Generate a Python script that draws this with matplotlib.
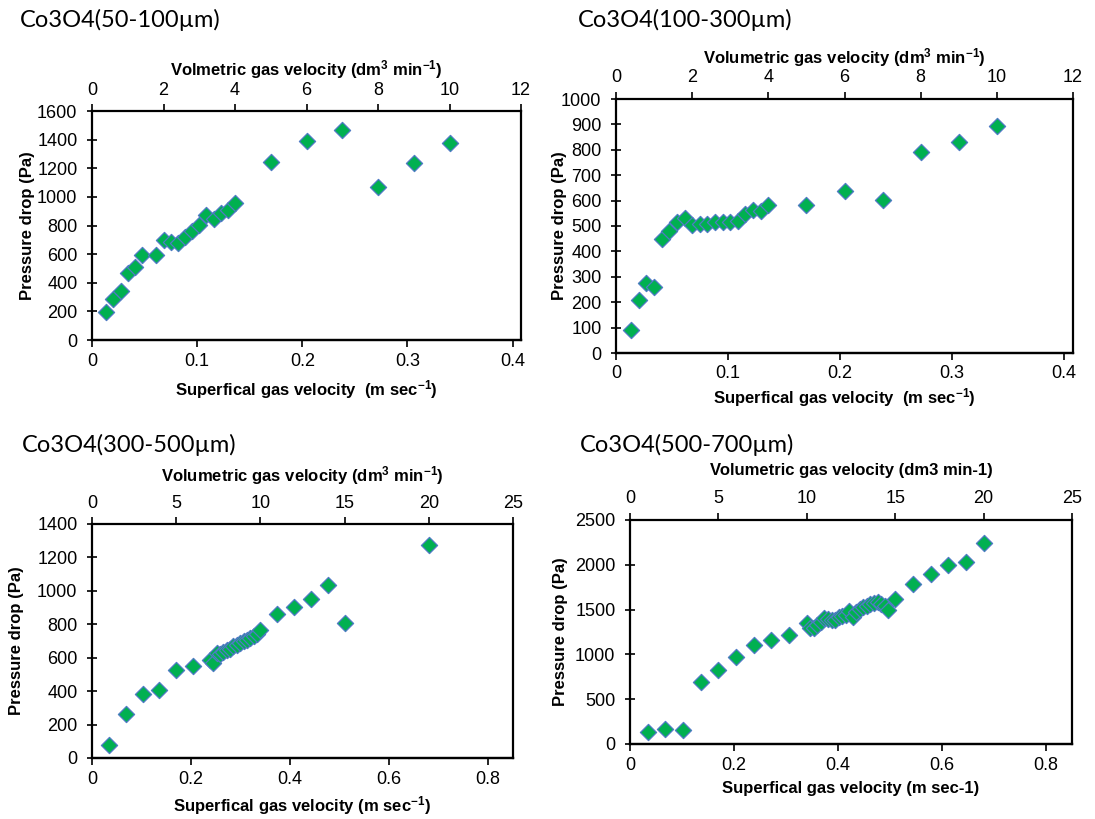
import matplotlib
matplotlib.use('Agg')
import matplotlib.pyplot as plt
from matplotlib.ticker import FuncFormatter

plt.rcParams['font.family'] = ['Liberation Sans', 'DejaVu Sans']
plt.rcParams['mathtext.fontset'] = 'custom'
plt.rcParams['mathtext.rm'] = 'Liberation Sans'
plt.rcParams['mathtext.bf'] = 'Liberation Sans:bold'
plt.rcParams['mathtext.default'] = 'bf'

# conversion between top (volumetric, dm3/min) and bottom (superficial, m/s) axes
FACTOR = 0.034

# ---------------- data ----------------
titles = ["Co3O4(50-100µm)", "Co3O4(100-300µm)", "Co3O4(300-500µm)", "Co3O4(500-700µm)"]

p1_vol = [0.4, 0.6, 0.8, 1.0, 1.2, 1.4, 1.8, 2.0, 2.2, 2.4, 2.6, 2.8, 3.0, 3.2, 3.4, 3.6,
          3.8, 4.0, 5, 6, 7, 8, 9, 10]
p1_dp = [194, 285, 343, 465, 507, 591, 596, 698, 687, 677, 719, 761, 801, 876, 848, 888,
         909, 960, 1243, 1392, 1465, 1067, 1238, 1373]

p2_vol = [0.4, 0.6, 0.8, 1.0, 1.2, 1.4, 1.6, 1.8, 2.0, 2.2, 2.4, 2.6, 2.8, 3.0, 3.2, 3.4,
          3.6, 3.8, 4.0, 5, 6, 7, 8, 9, 10]
p2_dp = [92, 210, 276, 258, 449, 479, 514, 530, 504, 509, 507, 517, 514, 517, 521, 547,
         564, 558, 581, 583, 638, 601, 790, 829, 892]

p3_vol = [1, 2, 3, 4, 5, 6, 7, 7.2, 7.4, 7.6, 7.8, 8.0, 8.2, 8.4, 8.6, 8.8, 9.0, 9.2,
          9.4, 9.6, 9.8, 10, 11, 12, 13, 14, 15, 20]
p3_dp = [78, 265, 384, 404, 524, 552, 586, 568, 628, 622, 635, 645, 655, 668, 678, 690,
         698, 705, 715, 728, 742, 768, 859, 902, 952, 1034, 807, 1277]

p4_vol = [1, 2, 3, 4, 5, 6, 7, 8, 9, 10, 10.2, 10.4, 10.6, 10.8, 11.0, 11.2, 11.4, 11.6,
          11.8, 12.0, 12.2, 12.4, 12.6, 12.8, 13.0, 13.2, 13.4, 13.6, 13.8, 14.0, 14.2,
          14.4, 14.6, 15, 16, 17, 18, 19, 20]
p4_dp = [137, 162, 155, 687, 823, 975, 1100, 1156, 1219, 1355, 1290, 1300, 1330, 1360,
         1410, 1390, 1385, 1380, 1420, 1430, 1440, 1480, 1420, 1470, 1510, 1530, 1540,
         1560, 1570, 1590, 1560, 1540, 1500, 1617, 1784, 1898, 1998, 2027, 2238]

# tick values
top_ticks_a = [0, 2, 4, 6, 8, 10, 12]
top_ticks_b = [0, 5, 10, 15, 20, 25]
bot_ticks_a = [0, 0.1, 0.2, 0.3, 0.4]
bot_ticks_b = [0, 0.2, 0.4, 0.6, 0.8]
y_ticks_1 = [0, 200, 400, 600, 800, 1000, 1200, 1400, 1600]
y_ticks_2 = [0, 100, 200, 300, 400, 500, 600, 700, 800, 900, 1000]
y_ticks_3 = [0, 200, 400, 600, 800, 1000, 1200, 1400]
y_ticks_4 = [0, 500, 1000, 1500, 2000, 2500]

top_labels = [r"Volmetric gas velocity (dm$^{3}$ min$^{-1}$)",
              r"Volumetric gas velocity (dm$^{3}$ min$^{-1}$)",
              r"Volumetric gas velocity (dm$^{3}$ min$^{-1}$)",
              "Volumetric gas velocity (dm3 min-1)"]
bottom_labels = [r"Superfical gas velocity  (m sec$^{-1}$)",
                 r"Superfical gas velocity  (m sec$^{-1}$)",
                 r"Superfical gas velocity (m sec$^{-1}$)",
                 "Superfical gas velocity (m sec-1)"]
ylabel = "Pressure drop (Pa)"

# ---------------- layout (pixels) ----------------
W, H = 1095, 819
fig = plt.figure(figsize=(W / 100, H / 100), dpi=100)


def rect(l, t, r, b):
    return [l / W, 1 - b / H, (r - l) / W, (b - t) / H]


GREEN = '#00B050'
EDGE = '#4F7BC4'
FS = 13
LFS = 12


def fmt(v, _):
    if abs(v) < 1e-9:
        return '0'
    return f'{round(v, 6):g}'


def panel(box, vol, dp, top_ticks, bot_ticks, y_ticks, title, title_xy,
          toplab, toplab_y, botlab, botlab_y, ylab_x):
    l, t, r, b = box
    ax = fig.add_axes(rect(l, t, r, b))
    ax.scatter(vol, dp, marker='D', s=68, c=GREEN, edgecolors=EDGE, linewidths=0.9,
               zorder=3, clip_on=False)
    ax.set_xlim(top_ticks[0], top_ticks[-1])
    ax.set_ylim(y_ticks[0], y_ticks[-1])
    ax.set_xticks(top_ticks)
    ax.set_yticks(y_ticks)
    ax.xaxis.tick_top()
    ax.xaxis.set_label_position('top')
    ax.xaxis.set_major_formatter(FuncFormatter(fmt))
    ax.yaxis.set_major_formatter(FuncFormatter(fmt))
    for s in ax.spines.values():
        s.set_linewidth(1.6)
        s.set_color('black')
    ax.tick_params(axis='y', direction='inout', length=7, width=1.2, pad=7, labelsize=FS)
    ax.tick_params(axis='x', direction='out', length=5, width=1.2, pad=4, labelsize=FS)

    sec = ax.secondary_xaxis('bottom', functions=(lambda v: v * FACTOR, lambda s: s / FACTOR))
    sec.set_xticks(bot_ticks)
    sec.xaxis.set_major_formatter(FuncFormatter(fmt))
    sec.tick_params(axis='x', direction='out', length=5, width=1.2, pad=4, labelsize=FS)
    sec.spines['bottom'].set_linewidth(1.6)

    # labels
    ax.set_xlabel(toplab, fontsize=LFS, fontweight='bold')
    ax.xaxis.set_label_coords(0.5, (b - toplab_y) / (b - t), transform=ax.transAxes)
    ax.xaxis.label.set_va('center')
    sec.set_xlabel(botlab, fontsize=LFS, fontweight='bold')
    sec.xaxis.set_label_coords(0.5, (b - botlab_y) / (b - t), transform=ax.transAxes)
    sec.xaxis.label.set_va('center')
    ax.set_ylabel(ylabel, fontsize=LFS, fontweight='bold')
    ax.yaxis.set_label_coords((ylab_x - l) / (r - l), 0.5, transform=ax.transAxes)
    ax.yaxis.label.set_va('center')

    fig.text(title_xy[0] / W, 1 - title_xy[1] / H, title, fontsize=17,
             family=['Lato', 'DejaVu Sans'], ha='left', va='center')
    return ax


panel((92, 111, 521, 340), p1_vol, p1_dp, top_ticks_a, bot_ticks_a, y_ticks_1,
      titles[0], (20, 20), top_labels[0], 70, bottom_labels[0], 390, 28)
panel((616, 99, 1073, 353), p2_vol, p2_dp, top_ticks_a, bot_ticks_a, y_ticks_2,
      titles[1], (578, 20), top_labels[1], 58, bottom_labels[1], 398, 560)
panel((92, 524, 513, 758), p3_vol, p3_dp, top_ticks_b, bot_ticks_b, y_ticks_3,
      titles[2], (22, 445), top_labels[2], 476, bottom_labels[2], 806, 17)
panel((630, 520, 1072, 744), p4_vol, p4_dp, top_ticks_b, bot_ticks_b, y_ticks_4,
      titles[3], (580, 445), top_labels[3], 471, bottom_labels[3], 789, 560)

fig.savefig('out.png', dpi=100)
